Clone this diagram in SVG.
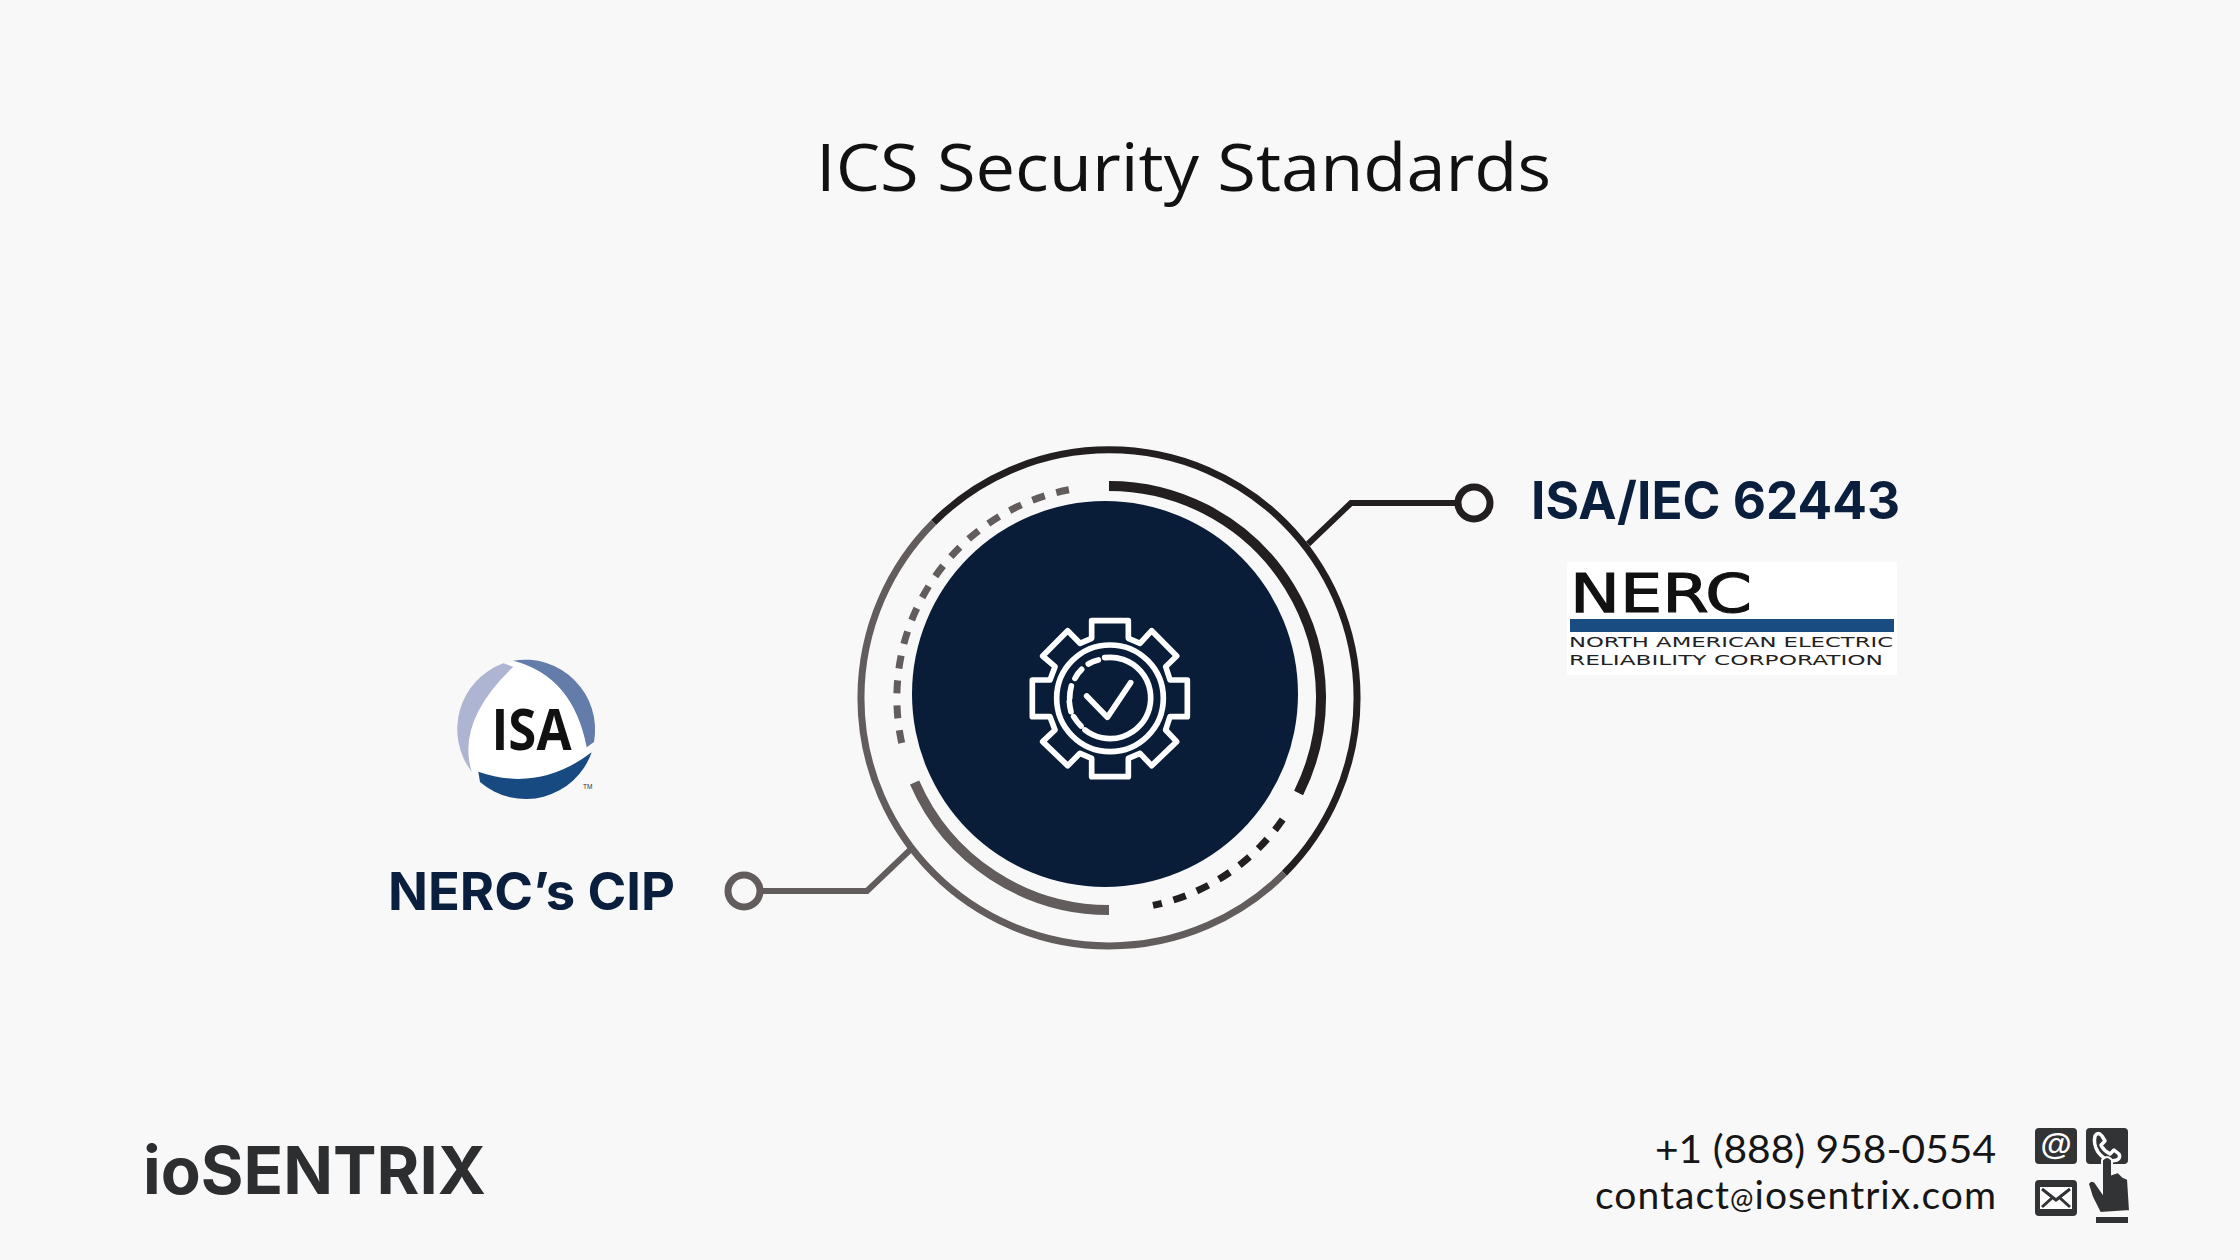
<svg xmlns="http://www.w3.org/2000/svg" width="2240" height="1260" viewBox="0 0 2240 1260">
<style>
.head{font-family:Inter,"Open Sans",sans-serif;font-weight:700;font-size:52px;fill:#0a1f3d}
.contact{font-family:Lato,"Noto Sans",sans-serif;font-size:39px;fill:#161616;text-anchor:end}
.logo{font-family:"DejaVu Sans",sans-serif}
.dk{stroke:#231f20;fill:none}
.gr{stroke:#625c5c;fill:none}
.ic{fill:#323335}
.wl{fill:none;stroke:#fff;stroke-linecap:round;stroke-linejoin:round}
</style>
<rect width="2240" height="1260" fill="#f8f8f8"/>
<text id="title" x="816" y="191" font-family="Open Sans,sans-serif" font-size="66" fill="#111" textLength="735" lengthAdjust="spacingAndGlyphs">ICS Security Standards</text>
<g id="connectors">
<path class="dk" stroke-width="6" d="M1308 544L1351 503H1456"/>
<circle class="dk" stroke-width="7" cx="1474" cy="503" r="16"/>
<path class="gr" stroke-width="6" d="M910 850L867 891H763"/>
<circle class="gr" stroke-width="7" cx="744" cy="891" r="16"/>
</g>
<g id="hub">
<path class="dk" stroke-width="7" d="M933.6 522.5A248 248 0 0 1 1284.4 873.3"/>
<path class="gr" stroke-width="7" d="M1284.4 873.3A248 248 0 0 1 933.6 522.5"/>
<path class="dk" stroke-width="10" d="M1109 486A212 212 0 0 1 1298.6 792.9"/>
<path class="dk" stroke-width="7" stroke-dasharray="13 12" d="M1282.7 819.6A212 212 0 0 1 1153 905.4"/>
<path class="gr" stroke-width="10" d="M1109 910A212 212 0 0 1 914.6 782.5"/>
<path class="gr" stroke-width="7" stroke-dasharray="13 12" d="M901.7 743A212 212 0 0 1 1071 489.4"/>
<circle cx="1105" cy="694" r="193" fill="#091d38"/>
<g transform="translate(1000 600) scale(.33333)">
<path class="wl" stroke-width="17" d="M275 62H385V115L420 130L455 92L530 168L497 200L510 240H562V350H510L497 390L530 425L455 497L420 460L385 475V530H275V475L240 460L203 497L128 425L165 390L150 350H97V240H150L165 200L128 168L203 92L240 130L275 115Z"/>
<circle class="wl" stroke-width="17" cx="330" cy="295" r="160"/>
<path class="wl" stroke-width="17" d="M314 173A122 122 0 1 1 255 390M295 180Q278 184 265 192M245 208Q232 220 225 235M214 258Q209 276 209 295M208 305Q209 320 213 335M221 350Q230 365 243 378"/>
<path class="wl" stroke-width="17" d="M260 288L322 352L392 248"/>
</g>
</g>
<g id="isa-62443">
<text class="head" x="1531" y="519" textLength="369" lengthAdjust="spacingAndGlyphs">ISA/IEC 62443</text>
</g>
<g id="nerc-logo">
<rect x="1567" y="562" width="330" height="113" fill="#fff"/>
<text class="logo" x="1570" y="612" font-size="53" fill="#111" stroke="#111" stroke-width="1.2" textLength="182" lengthAdjust="spacingAndGlyphs">NERC</text>
<rect x="1570" y="619" width="324" height="13" fill="#194d82"/>
<text class="logo" x="1569" y="647" font-size="13.5" fill="#222" textLength="324" lengthAdjust="spacingAndGlyphs">NORTH AMERICAN ELECTRIC</text>
<text class="logo" x="1569" y="665" font-size="13.5" fill="#222" textLength="314" lengthAdjust="spacingAndGlyphs">RELIABILITY CORPORATION</text>
</g>
<g id="isa-logo">
<circle cx="526" cy="729" r="68" fill="#fff"/>
<path fill="#aeb5d2" d="M503.3 663.3L513.3 666.7Q456 721 471.7 771.7A70 70 0 0 1 503.3 663.3Z"/>
<path fill="#647ca9" d="M513.3 660.7A70 70 0 0 1 594 742L586.7 747.3Q573 676 513.3 660.7Z"/>
<path fill="#184a82" d="M478.3 771.7Q538.3 792.7 591.7 752.3A70 70 0 0 1 480 782Z"/>
<text x="491.5" y="750" font-family="Open Sans,Liberation Sans,sans-serif" font-weight="700" font-size="57" fill="#111" textLength="80" lengthAdjust="spacingAndGlyphs">ISA</text>
<text x="583" y="789" font-family="Liberation Sans,sans-serif" font-size="6.5" fill="#333">TM</text>
</g>
<g id="nerc-cip">
<text class="head" x="388" y="910" textLength="287" lengthAdjust="spacingAndGlyphs">NERC’s CIP</text>
</g>
<g id="footer">
<text x="143" y="1194" font-family="Inter,sans-serif" font-weight="700" font-size="66" fill="#2d2e30" textLength="343" lengthAdjust="spacingAndGlyphs">ioSENTRIX</text>
<text class="contact" x="1996" y="1163" textLength="341" lengthAdjust="spacingAndGlyphs">+1 (888) 958-0554</text>
<text class="contact" x="1996" y="1209" textLength="401" lengthAdjust="spacing">contact<tspan font-size="28">@</tspan>iosentrix.com</text>
<rect class="ic" x="2035" y="1128" width="42" height="36" rx="4"/>
<text x="2056" y="1155" font-family="Liberation Sans,sans-serif" font-weight="700" font-size="32" fill="#fff" text-anchor="middle">@</text>
<rect class="ic" x="2086" y="1128" width="42" height="36" rx="4"/>
<path d="M2095 1136Q2098 1131 2102 1136L2105 1141L2101 1145Q2103 1150 2110 1154L2114 1150L2119 1154Q2121 1158 2117 1160Q2106 1163 2098 1152Q2093 1144 2095 1136Z" fill="none" stroke="#fff" stroke-width="3.5" stroke-linejoin="round"/>
<rect class="ic" x="2035" y="1180" width="42" height="36" rx="4"/>
<rect x="2040" y="1187" width="32" height="22" fill="#fff"/>
<path d="M2042 1189L2056 1200L2070 1189M2042 1207L2052 1198M2070 1207L2060 1198" fill="none" stroke="#323335" stroke-width="3"/>
<path class="ic" stroke="#f8f8f8" stroke-width="2" d="M2102 1160Q2107 1154 2112 1160V1174L2118 1172L2123 1177L2128 1179L2130 1211L2100 1213L2092 1197L2088 1184Q2090 1179 2095 1182L2102 1192Z"/>
<rect class="ic" x="2096" y="1217" width="32" height="6"/>
</g>
</svg>
